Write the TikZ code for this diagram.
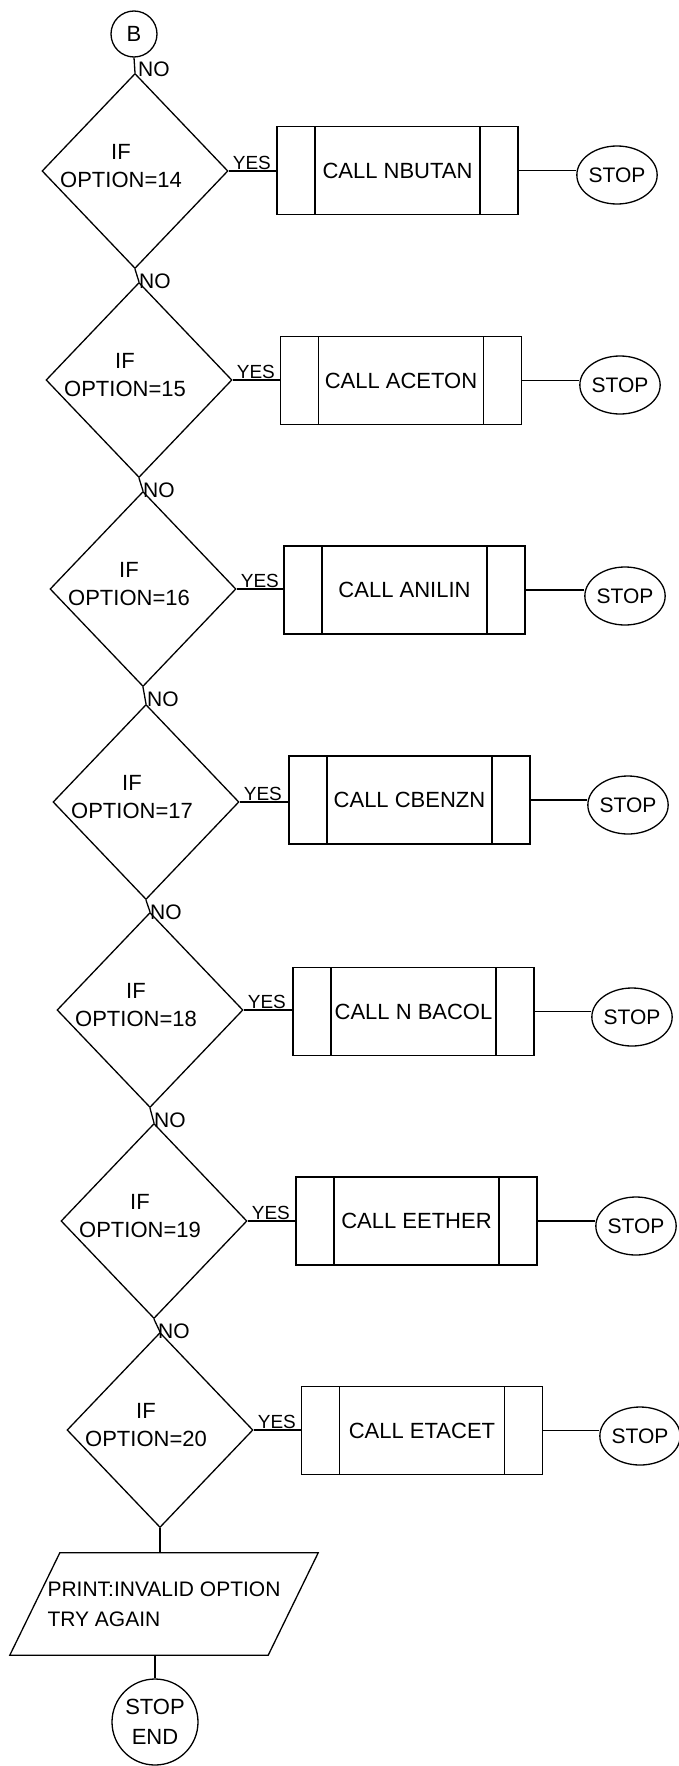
\documentclass[tikz,border=0pt]{standalone}
\usepackage{fontspec}
\setmainfont{Liberation Sans}
\usetikzlibrary{shapes.geometric,calc}
\begin{document}
\begin{tikzpicture}[x=1pt,y=-1pt,
  conn/.style={draw=black,line width=1.3pt},
  decision/.style={diamond,draw=black,line width=1.3pt,minimum width=186pt,minimum height=195pt,inner sep=0pt},
  dtext/.style={align=center,inner sep=0pt,font=\fontsize{22}{28}\selectfont},
  subproc/.style={rectangle,draw=black,line width=1.3pt,minimum width=241pt,minimum height=88pt,inner sep=0pt,
    font=\fontsize{22}{28}\selectfont,
    path picture={\draw[line width=1.3pt]
      ([xshift=38pt]path picture bounding box.north west) -- ([xshift=38pt]path picture bounding box.south west)
      ([xshift=-38pt]path picture bounding box.north east) -- ([xshift=-38pt]path picture bounding box.south east);}},
  stopn/.style={ellipse,draw=black,line width=1.3pt,minimum width=72pt,minimum height=58pt,inner sep=0pt,
    font=\fontsize{21}{26}\selectfont},
  connector/.style={circle,draw=black,line width=1.3pt,minimum size=46pt,inner sep=0pt,font=\fontsize{22}{26}\selectfont},
  endterm/.style={circle,draw=black,line width=1.3pt,minimum size=86pt,inner sep=0pt,align=center,font=\fontsize{22}{30}\selectfont},
  yeslab/.style={inner sep=0pt,anchor=south west,font=\fontsize{19}{22}\selectfont},
  nolab/.style={inner sep=0pt,anchor=north west,font=\fontsize{21}{24}\selectfont},
  printbox/.style={rectangle,minimum width=258pt,minimum height=102pt,inner sep=0pt,align=left,font=\fontsize{21}{30}\selectfont}
]
\fill[white] (0,0) rectangle (678,1766);
\useasboundingbox (0,0) rectangle (678,1766);

\node[connector] (B) at (134,34) {B};

\foreach \i/\dx/\dy/\bx/\by/\sx/\sy/\num/\name in {
  1/135/171/397.5/170.5/617/175/14/NBUTAN,
  2/139/380/401/380.5/620/385/15/ACETON,
  3/143/589/404.5/590/625/596/16/ANILIN,
  4/146/802/409.5/800/628/805/17/CBENZN,
  5/150/1010/413.5/1011.5/632/1017/18/N BACOL,
  6/154/1221/416.5/1221/636/1226/19/EETHER,
  7/160/1430/422/1430.5/640/1436/20/ETACET}
{
  \node[decision] (d\i) at (\dx,\dy) {};
  \node[dtext] (t\i) at ({\dx-14},{\dy-5}) {IF\\OPTION=\num};
  \node[subproc] (b\i) at (\bx,\by) {CALL \name};
  \node[stopn] (s\i) at (\sx,\sy) {STOP};
  \draw[conn] (d\i.east) -- (d\i.east -| b\i.west);
  \node[yeslab] (y\i) at ([shift={(4,-1)}]d\i.east) {YES};
  \draw[conn] (b\i.east) -- (b\i.east -| s\i.west);
}

\draw[conn] (B.south) -- (d1.north);
\node[nolab] (n0) at ([shift={(4,4)}]B.south) {NO};
\foreach \i/\j in {1/2,2/3,3/4,4/5,5/6,6/7}{
  \draw[conn] (d\i.south) -- (d\j.north);
  \node[nolab] (n\i) at ([shift={(4,4)}]d\i.south) {NO};
}

\node[printbox] (pr) at (164,1604) {PRINT:INVALID OPTION\\TRY AGAIN};
\draw[conn] ([xshift=25pt]pr.north west) -- ([xshift=25pt]pr.north east)
  -- ([xshift=-25pt]pr.south east) -- ([xshift=-25pt]pr.south west) -- cycle;
\draw[conn] (d7.south) -- (d7.south |- pr.north);

\node[endterm] (se) at (155,1722) {STOP\\END};
\draw[conn] (se.north |- pr.south) -- (se.north);
\end{tikzpicture}
\end{document}
